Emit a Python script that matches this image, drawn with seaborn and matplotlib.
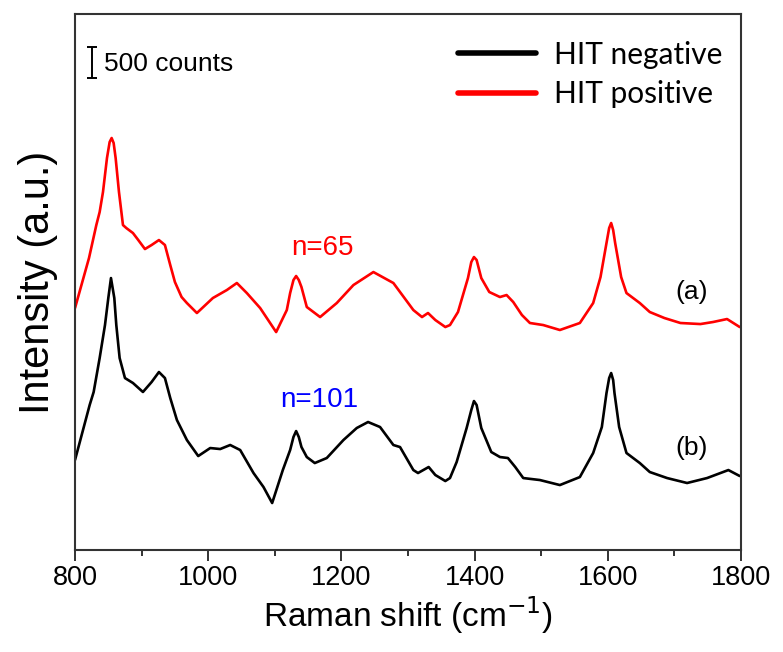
import numpy as np
import pandas as pd
import matplotlib
matplotlib.use("Agg")
import matplotlib.pyplot as plt
import seaborn as sns
from matplotlib.lines import Line2D
from matplotlib.ticker import MultipleLocator

# ---- data (counts) ----
shift_pos = [800, 821, 832, 837, 842, 848, 852, 855, 858, 861, 866, 872, 877, 887, 895, 905, 915,
             926, 935, 943, 950, 960, 968, 983, 1007, 1028, 1043, 1058, 1078, 1102, 1118, 1123,
             1128, 1132, 1136, 1140, 1148, 1168, 1193, 1218, 1248, 1278, 1308, 1321, 1330, 1341,
             1356, 1363, 1375, 1390, 1395, 1399, 1403, 1410, 1422, 1438, 1448, 1458, 1471, 1483,
             1503, 1528, 1558, 1578, 1589, 1598, 1602, 1605, 1608, 1611, 1620, 1628, 1648, 1663,
             1685, 1709, 1739, 1758, 1779, 1798]
hit_pos = [3903, 4710, 5242, 5452, 5775, 6323, 6581, 6646, 6565, 6323, 5775, 5242, 5194, 5113,
           5000, 4855, 4920, 5000, 4920, 4597, 4323, 4081, 3984, 3823, 4065, 4194, 4307, 4145,
           3903, 3516, 3871, 4145, 4355, 4420, 4355, 4242, 3920, 3758, 3984, 4274, 4484, 4307,
           3871, 3758, 3823, 3710, 3597, 3629, 3839, 4387, 4645, 4726, 4678, 4387, 4162, 4081,
           4113, 4000, 3791, 3662, 3629, 3549, 3662, 3984, 4403, 4952, 5194, 5275, 5162, 4952,
           4403, 4145, 3984, 3839, 3742, 3662, 3645, 3678, 3726, 3597]

shift_neg = [800, 822, 828, 837, 845, 850, 854, 859, 862, 867, 875, 887, 902, 915, 926, 935, 943,
             953, 968, 985, 1003, 1018, 1033, 1048, 1068, 1083, 1096, 1112, 1123, 1128, 1132,
             1136, 1140, 1148, 1160, 1178, 1203, 1223, 1240, 1258, 1278, 1288, 1308, 1315, 1331,
             1341, 1356, 1363, 1373, 1388, 1395, 1399, 1403, 1410, 1425, 1438, 1450, 1461, 1473,
             1498, 1528, 1558, 1578, 1591, 1598, 1602, 1605, 1608, 1610, 1617, 1628, 1648, 1663,
             1689, 1719, 1749, 1781, 1798]
hit_neg = [1452, 2339, 2549, 3097, 3629, 4065, 4387, 4065, 3629, 3097, 2774, 2694, 2549, 2710,
           2871, 2774, 2452, 2097, 1774, 1516, 1645, 1629, 1694, 1613, 1242, 1016, 758, 1290,
           1613, 1823, 1919, 1823, 1661, 1500, 1403, 1484, 1774, 1968, 2065, 1984, 1694, 1661,
           1290, 1242, 1339, 1210, 1113, 1161, 1419, 1968, 2258, 2403, 2339, 1968, 1581, 1500,
           1484, 1339, 1161, 1129, 1048, 1177, 1565, 1984, 2532, 2774, 2855, 2742, 2532, 1984,
           1565, 1403, 1258, 1161, 1081, 1161, 1290, 1194]

series_names = ["HIT negative", "HIT positive"]
series_colors = ["#000000", "#ff0000"]
x_ticks = [800, 1000, 1200, 1400, 1600, 1800]
scale_counts = 500

df = pd.concat([
    pd.DataFrame({"shift": shift_neg, "intensity": hit_neg, "group": series_names[0]}),
    pd.DataFrame({"shift": shift_pos, "intensity": hit_pos, "group": series_names[1]}),
])

sns.set_style("ticks")
plt.rcParams["font.family"] = ["Liberation Sans", "DejaVu Sans"]
plt.rcParams["text.color"] = "black"
plt.rcParams["axes.labelcolor"] = "black"

fig = plt.figure(figsize=(7.83, 6.52), dpi=100)
ax = fig.add_axes([0.0958, 0.1564, 0.8506, 0.8221])

sns.lineplot(data=df, x="shift", y="intensity", hue="group", hue_order=series_names,
             palette=series_colors, estimator=None, sort=True, linewidth=1.9, ax=ax,
             legend=False)

ax.set_xlim(800, 1800)
ax.set_ylim(0, 8646)
ax.set_xticks(x_ticks)
ax.xaxis.set_minor_locator(MultipleLocator(100))
ax.set_yticks([])
ax.tick_params(axis="x", which="major", direction="out", length=8, width=1.3,
               labelsize=19.5, pad=3, colors="#222222", labelcolor="black")
ax.tick_params(axis="x", which="minor", direction="out", length=4, width=1.3, colors="#222222")
for s in ax.spines.values():
    s.set_visible(True)
    s.set_linewidth(1.5)
    s.set_color("#333333")

ax.set_xlabel("Raman shift (cm$^{-1}$)", fontsize=24, labelpad=2)
ax.set_ylabel("Intensity (a.u.)", fontsize=30, labelpad=12)

# scale bar
ax.errorbar([825], [7863], yerr=[scale_counts / 2], color="black", capsize=3.5,
            elinewidth=1.4, capthick=1.4, fmt="none")
ax.text(843, 7840, f"{scale_counts} counts", fontsize=19, va="center", ha="left")

# annotations
ax.text(1171, 4871, "n=65", color="#ff0000", fontsize=20, ha="center", va="center")
ax.text(1166, 2420, "n=101", color="#0000ff", fontsize=20, ha="center", va="center")
ax.text(1726, 4162, "(a)", fontsize=19, ha="center", va="center")
ax.text(1726, 1645, "(b)", fontsize=19, ha="center", va="center")

handles = [Line2D([0], [0], color=c, lw=4) for c in series_colors]
leg = ax.legend(handles, series_names, loc="upper right", frameon=False,
                bbox_to_anchor=(1.012, 1.0), handlelength=2.6, handletextpad=0.6,
                labelspacing=0.38, prop={"family": ["Lato", "DejaVu Sans"], "size": 21.5})

fig.savefig("out.png", dpi=100)
